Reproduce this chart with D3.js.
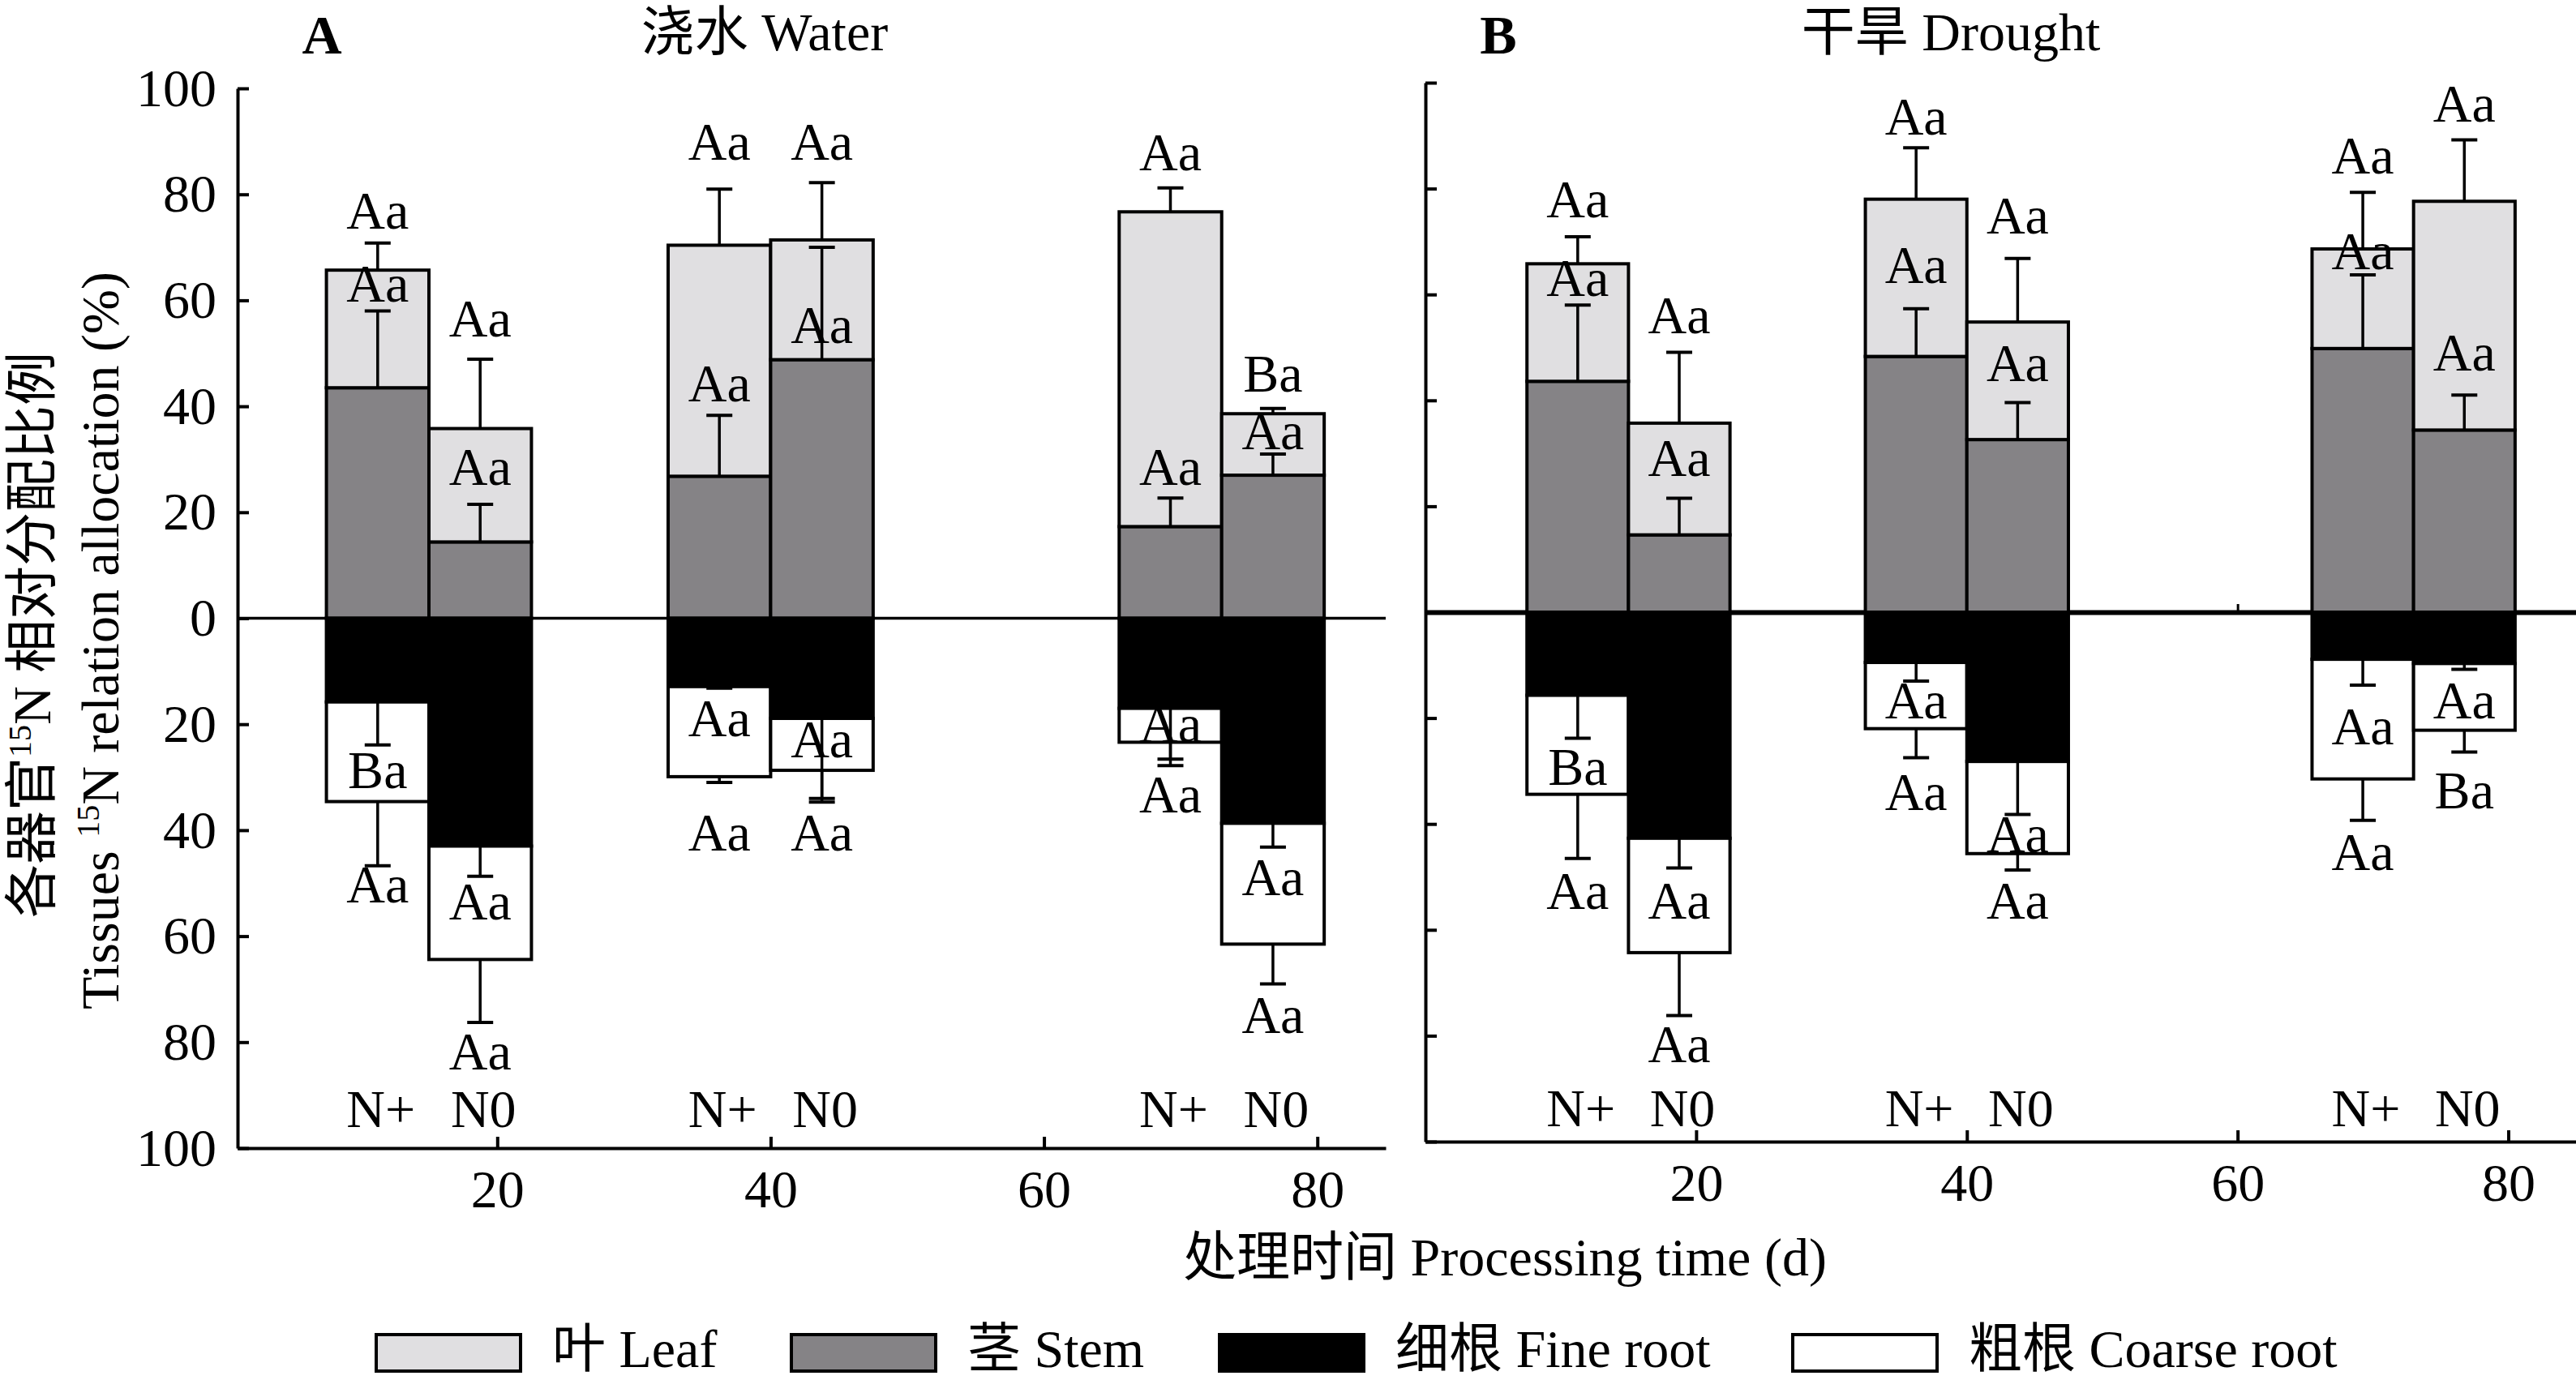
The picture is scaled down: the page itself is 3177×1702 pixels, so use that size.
<!DOCTYPE html>
<html><head><meta charset="utf-8">
<script src="https://cdn.jsdelivr.net/npm/d3@7"></script>
<style>
body{margin:0;background:#fff}
svg{display:block}
text{font-family:'Liberation Serif','Noto Sans CJK SC',serif;fill:#000}
</style>
</head><body>
<svg id="chart" width="3177" height="1702"></svg>
<script>
// ---------------- DATA ----------------
const days = [15, 40, 73];
const treatments = ["N+", "N0"];
const xTicks = [20, 40, 60, 80];
const yTicks = [-100, -80, -60, -40, -20, 0, 20, 40, 60, 80, 100];
const seriesNames = ["叶 Leaf", "茎 Stem", "细根 Fine root", "粗根 Coarse root"];
// order of bars: [15 N+, 15 N0, 40 N+, 40 N0, 73 N+, 73 N0]

// 浇水 Water
const waterStem    = [43.5, 14.4, 26.8, 48.8, 17.3, 27.0];
const waterLeaf    = [22.2, 21.4, 43.6, 22.6, 59.4, 11.6];
const waterFine    = [15.8, 43.0, 12.9, 18.9, 17.0, 38.7];
const waterCoarse  = [18.8, 21.4, 17.0,  9.8,  6.4, 22.8];
const waterStemSE  = [14.5,  7.1, 11.5, 21.2,  5.4,  4.0];
const waterLeafSE  = [ 5.1, 13.1, 10.6, 10.8,  4.5,  1.0];
const waterFineSE  = [ 8.1,  5.7,  0.3, 15.1,  9.6,  4.5];
const waterCoarseSE= [12.1, 11.9,  1.1,  6.0,  4.4,  7.5];
const waterLeafTxt   = ["Aa","Aa","Aa","Aa","Aa","Ba"];
const waterStemTxt   = ["Aa","Aa","Aa","Aa","Aa","Aa"];
const waterFineTxt   = ["Ba","Aa","Aa","Aa","Aa","Aa"];
const waterCoarseTxt = ["Aa","Aa","Aa","Aa","Aa","Aa"];
const waterLeafAt    = [73.6, 53.1, 86.5, 86.5, 84.6, 42.8];
const waterStemAt    = [59.7, 25.1, 40.9, 52.0, 25.2, 31.9];
const waterFineAt    = [-32.1, -56.9, -22.3, -26.2, -23.4, -52.3];
const waterCoarseAt  = [-53.7, -85.1, -43.8, -43.8, -36.6, -78.3];

// 干旱 Drought
const droughtStem    = [43.6, 14.6, 48.3, 32.6, 49.8, 34.4];
const droughtLeaf    = [22.2, 21.1, 29.7, 22.2, 18.8, 43.2];
const droughtFine    = [15.7, 42.7,  9.5, 28.2,  8.9,  9.7];
const droughtCoarse  = [18.7, 21.6, 12.5, 17.4, 22.6, 12.6];
const droughtStemSE  = [14.4,  6.9,  9.0,  7.0, 13.9,  6.6];
const droughtLeafSE  = [ 5.1, 13.4,  9.7, 12.0, 10.7, 11.6];
const droughtFineSE  = [ 8.1,  5.6,  3.5, 10.0,  4.9,  1.1];
const droughtCoarseSE= [12.1, 11.9,  5.5,  3.1,  7.8,  4.1];
const droughtLeafTxt   = ["Aa","Aa","Aa","Aa","Aa","Aa"];
const droughtStemTxt   = ["Aa","Aa","Aa","Aa","Aa","Aa"];
const droughtFineTxt   = ["Ba","Aa","Aa","Aa","Aa","Aa"];
const droughtCoarseTxt = ["Aa","Aa","Aa","Aa","Aa","Ba"];
const droughtLeafAt    = [74.6, 52.7, 90.2, 71.5, 82.8, 92.6];
const droughtStemAt    = [59.8, 25.8, 62.1, 43.7, 64.8, 45.7];
const droughtFineAt    = [-32.6, -57.9, -20.1, -45.4, -24.9, -20.1];
const droughtCoarseAt  = [-56.0, -85.0, -37.4, -57.9, -48.7, -37.0];

// ---------------- STYLE / LAYOUT ----------------
const seriesColors = ["#e0dfe1", "#858386", "#000000", "#ffffff"];
const legendX = [464, 976, 1504, 2211];
const FS = 66;
const barW = 7.5;
const svg = d3.select("#chart");

function styleAxis(sel, w){
  sel.select(".domain").attr("stroke","#000").attr("stroke-width",w);
  sel.selectAll(".tick line").attr("stroke","#000").attr("stroke-width",w);
  sel.selectAll(".tick text").attr("font-size",FS).attr("fill","#000")
     .attr("font-family","'Liberation Serif',serif");
}

function drawPanel(p){
  const g = svg.append("g");
  const x = p.x, y = p.y;
  const x0 = x.range()[0], x1 = x.range()[1];

  // zero line
  if (p.zeroAxis){
    const za = g.append("g").attr("transform",`translate(0,${y(0)})`)
      .call(d3.axisBottom(x).tickValues(xTicks).tickSizeInner(-10).tickSizeOuter(0).tickFormat(""));
    styleAxis(za, 6);
    za.selectAll(".tick line").attr("stroke-width",3);
  } else {
    g.append("line").attr("x1",x0).attr("x2",x1).attr("y1",y(0)).attr("y2",y(0))
      .attr("stroke","#000").attr("stroke-width",3.5);
  }

  // y axis
  const ya = g.append("g").attr("transform",`translate(${x0},0)`)
    .call(d3.axisLeft(y).tickValues(yTicks).tickSizeInner(-14).tickSizeOuter(0).tickPadding(26)
      .tickFormat(p.yLabels ? d => Math.abs(d) : ""));
  styleAxis(ya, 4);

  // x axis
  const xa = g.append("g").attr("transform",`translate(0,${y(-100)})`)
    .call(d3.axisBottom(x).tickValues(xTicks).tickSizeInner(-14).tickSizeOuter(0).tickPadding(p.xPad));
  styleAxis(xa, 4);

  // bar records
  const rows = [];
  days.forEach((d,i) => treatments.forEach((t,j) => {
    const k = i*2 + j;
    rows.push({
      k, trt:t,
      a: j === 0 ? d - barW : d,
      b: j === 0 ? d : d + barW,
      stem: p.stem[k], leaf: p.leaf[k], fine: p.fine[k], coarse: p.coarse[k],
      stemSE: p.stemSE[k], leafSE: p.leafSE[k], fineSE: p.fineSE[k], coarseSE: p.coarseSE[k]
    });
  }));

  const segs = [];
  rows.forEach(r => {
    segs.push({r, top: r.stem, bot: 0, c: 1});
    segs.push({r, top: r.stem + r.leaf, bot: r.stem, c: 0});
    segs.push({r, top: 0, bot: -r.fine, c: 2});
    segs.push({r, top: -r.fine, bot: -r.fine - r.coarse, c: 3});
  });
  g.append("g").selectAll("rect").data(segs).join("rect")
    .attr("x", s => x(s.r.a)).attr("width", s => x(s.r.b) - x(s.r.a))
    .attr("y", s => y(s.top)).attr("height", s => y(s.bot) - y(s.top))
    .attr("fill", s => seriesColors[s.c]).attr("stroke","#000").attr("stroke-width",4);

  // error bars
  const errs = [];
  rows.forEach(r => {
    errs.push({r, from: r.stem + r.leaf, to: r.stem + r.leaf + r.leafSE});
    errs.push({r, from: r.stem, to: r.stem + r.stemSE});
    errs.push({r, from: -r.fine, to: -r.fine - r.fineSE});
    errs.push({r, from: -r.fine - r.coarse, to: -r.fine - r.coarse - r.coarseSE});
  });
  const eg = g.append("g").attr("stroke","#000");
  eg.selectAll("line.v").data(errs).join("line").attr("class","v")
    .attr("x1", e => x((e.r.a + e.r.b)/2)).attr("x2", e => x((e.r.a + e.r.b)/2))
    .attr("y1", e => y(e.from)).attr("y2", e => y(e.to)).attr("stroke-width",3.5);
  eg.selectAll("line.c").data(errs).join("line").attr("class","c")
    .attr("x1", e => x((e.r.a + e.r.b)/2) - 16).attr("x2", e => x((e.r.a + e.r.b)/2) + 16)
    .attr("y1", e => y(e.to)).attr("y2", e => y(e.to)).attr("stroke-width",4);

  // letters
  const labs = [];
  rows.forEach(r => {
    [[p.leafTxt,p.leafAt],[p.stemTxt,p.stemAt],[p.fineTxt,p.fineAt],[p.coarseTxt,p.coarseAt]]
      .forEach(([t,v]) => labs.push({r, t: t[r.k], v: v[r.k]}));
  });
  g.append("g").selectAll("text").data(labs).join("text")
    .attr("x", l => x((l.r.a + l.r.b)/2)).attr("y", l => y(l.v))
    .attr("text-anchor","middle").attr("font-size",FS).text(l => l.t);

  // N+ / N0
  g.append("g").selectAll("text").data(rows).join("text")
    .attr("x", r => x((r.a + r.b)/2) + 4).attr("y", y(-100) - p.nGap)
    .attr("text-anchor","middle").attr("font-size",FS).text(r => r.trt);
}

drawPanel({
  x: d3.scaleLinear().domain([1, 85]).range([293, 1709]),
  y: d3.scaleLinear().domain([-100, 100]).range([1416, 109]),
  yLabels: true, zeroAxis: false, nGap: 26, xPad: 26,
  stem: waterStem, leaf: waterLeaf, fine: waterFine, coarse: waterCoarse,
  stemSE: waterStemSE, leafSE: waterLeafSE, fineSE: waterFineSE, coarseSE: waterCoarseSE,
  leafTxt: waterLeafTxt, stemTxt: waterStemTxt, fineTxt: waterFineTxt, coarseTxt: waterCoarseTxt,
  leafAt: waterLeafAt, stemAt: waterStemAt, fineAt: waterFineAt, coarseAt: waterCoarseAt
});
drawPanel({
  x: d3.scaleLinear().domain([0, 85]).range([1758, 3177]),
  y: d3.scaleLinear().domain([-100, 100]).range([1408, 102]),
  yLabels: false, zeroAxis: true, nGap: 19, xPad: 26,
  stem: droughtStem, leaf: droughtLeaf, fine: droughtFine, coarse: droughtCoarse,
  stemSE: droughtStemSE, leafSE: droughtLeafSE, fineSE: droughtFineSE, coarseSE: droughtCoarseSE,
  leafTxt: droughtLeafTxt, stemTxt: droughtStemTxt, fineTxt: droughtFineTxt, coarseTxt: droughtCoarseTxt,
  leafAt: droughtLeafAt, stemAt: droughtStemAt, fineAt: droughtFineAt, coarseAt: droughtCoarseAt
});

// titles
svg.append("text").attr("x",397).attr("y",66).attr("text-anchor","middle")
  .attr("font-size",68).attr("font-weight","bold").text("A");
svg.append("text").attr("x",943).attr("y",62).attr("text-anchor","middle")
  .attr("font-size",FS).text("浇水 Water");
svg.append("text").attr("x",1848).attr("y",66).attr("text-anchor","middle")
  .attr("font-size",68).attr("font-weight","bold").text("B");
svg.append("text").attr("x",2406).attr("y",62).attr("text-anchor","middle")
  .attr("font-size",FS).text("干旱 Drought");

// y titles
function supTitle(tx, ty, before, after){
  const t = svg.append("text").attr("transform",`translate(${tx},${ty}) rotate(-90)`)
    .attr("text-anchor","middle").attr("font-size",FS);
  t.append("tspan").text(before);
  t.append("tspan").attr("font-size",40).attr("dy",-24).text("15");
  t.append("tspan").attr("dy",24).text(after);
}
supTitle(62, 783, "各器官", "N 相对分配比例");
supTitle(146, 790, "Tissues ", "N relation allocation (%)");

// x title
svg.append("text").attr("x",1856).attr("y",1573).attr("text-anchor","middle")
  .attr("font-size",FS).text("处理时间 Processing time (d)");

// legend
const lg = svg.append("g");
seriesNames.forEach((name, i) => {
  const lx = legendX[i];
  lg.append("rect").attr("x",lx).attr("y",1646).attr("width",178).attr("height",45)
    .attr("fill",seriesColors[i]).attr("stroke","#000").attr("stroke-width",4);
  lg.append("text").attr("x",lx + 178 + 39).attr("y",1686)
    .attr("font-size",FS).text(name);
});
</script>
</body></html>
